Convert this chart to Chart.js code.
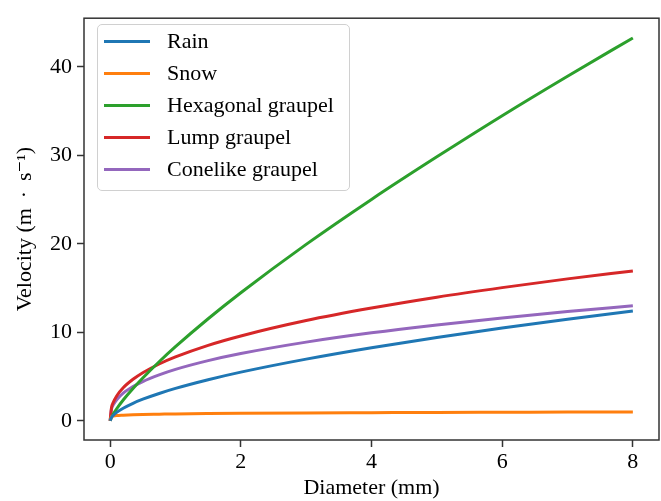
<!DOCTYPE html>
<html lang="en">
<head>
  <meta charset="UTF-8" />
  <title>Terminal velocity of hydrometeors</title>
  <script src="https://cdn.jsdelivr.net/npm/chart.js"></script>
  <style>
    body {
      margin: 0;
      background: #fff;
      font-family: 'Liberation Serif', 'DejaVu Serif', serif;
    }

    .chart-wrapper {
      position: relative;
      width: 661px;
      height: 501px;
    }

    .legend {
      position: absolute;
      left: 97px;
      top: 24px;
      width: 251px;
      height: 165px;
      border: 1px solid #d0d0d0;
      border-radius: 5px;
      background: rgba(255, 255, 255, 0.8);
    }

    .legend-item {
      display: flex;
      align-items: center;
      height: 32px;
      font-size: 22px;
      color: #000;
    }

    .legend-line {
      width: 46px;
      height: 3px;
      margin-left: 6px;
      margin-right: 17px;
    }
  </style>
</head>
<body>
  <div class="chart-wrapper">
    <canvas id="velocityChart" width="661" height="501"></canvas>
    <div class="legend" id="velocityLegend"></div>
  </div>

  <script>
    // diameter (mm) and fall speed (m/s) for each particle type
    const diameters = [0, 0.02, 0.05, 0.1, 0.2, 0.35, 0.5, 0.75, 1, 1.5, 2, 3, 4, 5, 6, 7, 8];
    const rain      = [0, 0.37, 0.63, 0.95, 1.42, 1.98, 2.44, 3.09, 3.66, 4.64, 5.50, 6.97, 8.26, 9.41, 10.48, 11.47, 12.40];
    const snow      = [0, 0.48, 0.55, 0.60, 0.64, 0.69, 0.72, 0.75, 0.78, 0.82, 0.85, 0.89, 0.92, 0.95, 0.97, 0.99, 1.00];
    const hexGraupel  = [0, 0.38, 0.79, 1.36, 2.35, 3.65, 4.84, 6.67, 8.37, 11.53, 14.47, 19.94, 25.02, 29.83, 34.48, 38.94, 43.27];
    const lumpGraupel = [0, 1.45, 2.11, 2.81, 3.73, 4.69, 5.43, 6.42, 7.22, 8.53, 9.59, 11.33, 12.74, 13.97, 15.05, 16.04, 16.94];
    const coneGraupel = [0, 1.28, 1.82, 2.38, 3.12, 3.87, 4.44, 5.19, 5.81, 6.80, 7.60, 8.89, 9.94, 10.83, 11.62, 12.34, 12.99];

    const seriesNames  = ['Rain', 'Snow', 'Hexagonal graupel', 'Lump graupel', 'Conelike graupel'];
    const seriesValues = [rain, snow, hexGraupel, lumpGraupel, coneGraupel];
    const seriesColors = ['#1f77b4', '#ff7f0e', '#2ca02c', '#d62728', '#9467bd'];

    const xTicks = [0, 2, 4, 6, 8];
    const yTicks = [0, 10, 20, 30, 40];

    const serif = "'Liberation Serif', 'DejaVu Serif', serif";
    const axisColor = '#333';
    const textColor = '#000';

    const datasets = seriesNames.map((name, i) => ({
      label: name,
      data: diameters.map((d, j) => ({ x: d, y: seriesValues[i][j] })),
      borderColor: seriesColors[i],
      backgroundColor: seriesColors[i],
      borderWidth: 3,
      pointRadius: 0,
      cubicInterpolationMode: 'monotone',
      fill: false
    }));

    // frame around the plot area (all four spines)
    const frame = {
      id: 'frame',
      afterDraw(chart) {
        const { ctx, chartArea: a } = chart;
        ctx.save();
        ctx.strokeStyle = axisColor;
        ctx.lineWidth = 1.5;
        ctx.strokeRect(a.left, a.top, a.right - a.left, a.bottom - a.top);
        ctx.restore();
      }
    };

    new Chart(document.getElementById('velocityChart'), {
      type: 'line',
      data: { datasets },
      plugins: [frame],
      options: {
        responsive: false,
        animation: false,
        layout: { padding: { top: 14, right: 2, left: 0, bottom: 0 } },
        plugins: {
          legend: { display: false },
          tooltip: { enabled: false }
        },
        scales: {
          x: {
            type: 'linear',
            min: -0.4,
            max: 8.4,
            afterBuildTicks: (scale) => { scale.ticks = xTicks.map(v => ({ value: v })); },
            afterFit: (scale) => { scale.height = 61; },
            border: { display: false },
            grid: { drawOnChartArea: false, drawTicks: true, tickLength: 7, tickColor: axisColor, tickWidth: 1.5 },
            ticks: { color: textColor, font: { family: serif, size: 22 }, padding: 2, maxRotation: 0 },
            title: { display: true, text: 'Diameter (mm)', color: textColor, font: { family: serif, size: 22 }, padding: 0 }
          },
          y: {
            type: 'linear',
            min: -2.17,
            max: 45.5,
            afterBuildTicks: (scale) => { scale.ticks = yTicks.map(v => ({ value: v })); },
            afterFit: (scale) => { scale.width = 84; },
            border: { display: false },
            grid: { drawOnChartArea: false, drawTicks: true, tickLength: 7, tickColor: axisColor, tickWidth: 1.5 },
            ticks: { color: textColor, font: { family: serif, size: 22 }, padding: 5 },
            title: {
              display: true,
              text: 'Velocity (m \u2009\u00B7\u2009 s\u207B\u00B9)',
              color: textColor,
              font: { family: serif, size: 22 },
              padding: { top: 12, bottom: 0 }
            }
          }
        }
      }
    });

    // legend inside the plot, upper left
    const legend = document.getElementById('velocityLegend');
    seriesNames.forEach((name, i) => {
      const item = document.createElement('div');
      item.className = 'legend-item';

      const line = document.createElement('span');
      line.className = 'legend-line';
      line.style.backgroundColor = seriesColors[i];

      item.appendChild(line);
      item.appendChild(document.createTextNode(name));
      legend.appendChild(item);
    });
  </script>
</body>
</html>
